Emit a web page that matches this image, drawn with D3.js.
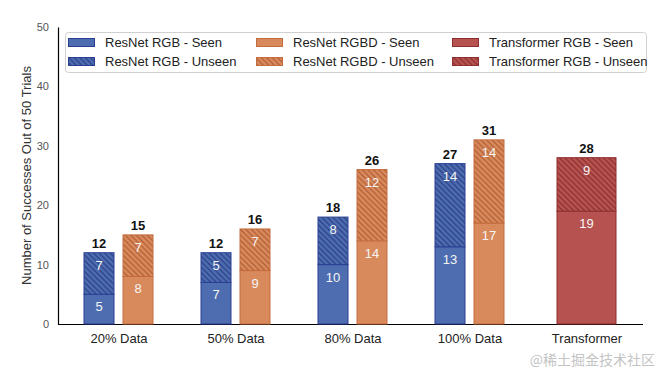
<!DOCTYPE html>
<html><head><meta charset="utf-8">
<script src="https://cdn.jsdelivr.net/npm/d3@7"></script>
<style>body{margin:0;background:#fff}svg{display:block;font-family:"Liberation Sans",Arial,sans-serif}</style>
</head><body><svg id="c" width="658" height="374"></svg>
<script>
const categories = ["20% Data","50% Data","80% Data","100% Data","Transformer"];
const rgbSeen = [5,7,10,13];
const rgbUnseen = [7,5,8,14];
const rgbdSeen = [8,9,14,17];
const rgbdUnseen = [7,7,12,14];
const trSeen = [19];
const trUnseen = [9];
const yTicks = [0,10,20,30,40,50];
const legendLabels = ["ResNet RGB - Seen","ResNet RGB - Unseen","ResNet RGBD - Seen","ResNet RGBD - Unseen","Transformer RGB - Seen","Transformer RGB - Unseen"];

const svg = d3.select("#c");
const x = d3.scalePoint().domain(categories).range([118.5, 586.5]);
const y = d3.scaleLinear().domain([0,50]).range([324, 27]);

const styles = {
  blue:{fill:"#4d6db0", stroke:"#2a3f92", hatch:"#26367f"},
  orange:{fill:"#d98a5c", stroke:"#c36c3e", hatch:"#a9552d"},
  red:{fill:"#b65350", stroke:"#8e2f2f", hatch:"#842828"}
};
const defs = svg.append("defs");
Object.entries(styles).forEach(([k,s])=>{
  const p = defs.append("pattern").attr("id","h-"+k).attr("patternUnits","userSpaceOnUse")
    .attr("width",5.5).attr("height",5.5);
  p.append("rect").attr("width",5.5).attr("height",5.5).attr("fill",s.fill);
  p.append("path").attr("d","M0,0L5.5,5.5M-1,4.5L1,6.5M4.5,-1L6.5,1")
    .attr("stroke",s.hatch).attr("stroke-width",1.1);
});

// axes
const yAxis = svg.append("g").attr("transform","translate(58,0)")
  .call(d3.axisLeft(y).tickValues(yTicks).tickSize(0).tickPadding(9));
yAxis.select(".domain").attr("stroke","#000").attr("stroke-width",1.2);
yAxis.selectAll("text").attr("font-size",11).attr("fill","#555").attr("font-family","Liberation Sans, Arial, sans-serif");

const xAxis = svg.append("g").attr("transform","translate(0,324)")
  .call(d3.axisBottom(x).tickSize(0).tickPadding(10));
xAxis.select(".domain").attr("d","M58,0.5H643").attr("stroke","#000").attr("stroke-width",1.2);
xAxis.selectAll("text").attr("font-size",13).attr("fill","#222").attr("font-family","Liberation Sans, Arial, sans-serif");

svg.append("text").attr("transform","translate(31,"+((y(0)+y(50))/2)+") rotate(-90)")
  .attr("text-anchor","middle").attr("font-size",13).attr("fill","#333")
  .text("Number of Successes Out of 50 Trials");

function stack(cat, x0, w, seen, unseen, st){
  const s = styles[st];
  const g = svg.append("g");
  g.append("rect").attr("x",x0).attr("width",w).attr("y",y(seen)).attr("height",y(0)-y(seen))
    .attr("fill",s.fill).attr("stroke",s.stroke).attr("stroke-width",1);
  g.append("rect").attr("x",x0).attr("width",w).attr("y",y(seen+unseen)).attr("height",y(seen)-y(seen+unseen))
    .attr("fill","url(#h-"+st+")").attr("stroke",s.stroke).attr("stroke-width",1);
  const cx = x0 + w/2;
  [[seen, y(seen)],[unseen, y(seen+unseen)]].forEach(([v,top])=>{
    g.append("text").attr("x",cx).attr("y",top+17).attr("text-anchor","middle")
      .attr("font-size",13).attr("fill","#f5f5f5").text(v);
  });
  g.append("text").attr("x",cx).attr("y",y(seen+unseen)-5).attr("text-anchor","middle")
    .attr("font-size",13).attr("font-weight","bold").attr("fill","#111").text(seen+unseen);
}
categories.slice(0,4).forEach((c,i)=>{
  stack(c, x(c)-34.5, 30, rgbSeen[i], rgbUnseen[i], "blue");
  stack(c, x(c)+4.5, 30, rgbdSeen[i], rgbdUnseen[i], "orange");
});
stack(categories[4], x(categories[4])-29.5, 59, trSeen[0], trUnseen[0], "red");

// legend
const lg = svg.append("g");
lg.append("rect").attr("x",65.5).attr("y",32.5).attr("width",581).attr("height",40).attr("rx",3)
  .attr("fill","#fff").attr("fill-opacity",0.85).attr("stroke","#d0d0d0");
const legendStyles = ["blue","blue","orange","orange","red","red"];
const colX = [68, 256, 452];
legendLabels.forEach((t,i)=>{
  const col = Math.floor(i/2), row = i%2;
  const st = styles[legendStyles[i]];
  const yy = 38.5 + row*19;
  lg.append("rect").attr("x",colX[col]+0.5).attr("y",yy).attr("width",26).attr("height",8)
    .attr("fill", row ? "url(#h-"+legendStyles[i]+")" : st.fill).attr("stroke",st.stroke);
  lg.append("text").attr("x",colX[col]+37).attr("y",yy+8.5).attr("font-size",13).attr("fill","#222").text(t);
});

// watermark
svg.append("text").attr("x",655).attr("y",365).attr("text-anchor","end")
  .attr("font-family","Noto Sans CJK SC").attr("font-size",14).attr("fill","#c4c4c4").text("@稀土掘金技术社区");
</script></body></html>
